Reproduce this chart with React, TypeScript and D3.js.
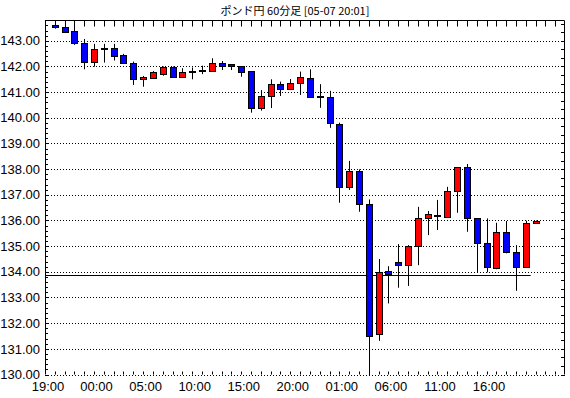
import React from 'react';
import { scaleLinear, range } from 'd3';

// 60-minute candles, index 1..50 (index 0 = 19:00)
const opens = [
  143.62, 143.53, 143.38, 142.9, 142.19, 142.67, 142.71, 142.45, 142.15, 141.5,
  141.56, 141.7, 141.97, 141.6, 141.8, 141.84, 141.84, 142.12, 142.09, 142.01,
  141.82, 140.37, 140.84, 141.31, 141.11, 141.37, 141.54, 140.82, 140.8, 139.75,
  137.31, 137.93, 136.63, 131.57, 134.02, 134.37, 134.25, 135.0, 136.08, 136.18,
  136.14, 137.13, 138.08, 136.08, 135.11, 134.16, 135.54, 134.76, 134.19, 135.89,
];
const highs = [
  143.65, 143.65, 143.66, 143.07, 142.88, 142.88, 142.88, 142.49, 142.19, 141.63,
  141.82, 142.0, 142.0, 141.93, 141.96, 142.03, 142.32, 142.21, 142.09, 142.01,
  141.82, 141.08, 141.5, 141.41, 141.51, 141.8, 141.89, 141.31, 141.05, 139.81,
  138.32, 137.99, 136.82, 134.5, 134.22, 135.08, 135.04, 136.53, 136.37, 136.8,
  137.31, 138.08, 138.2, 136.08, 136.08, 135.91, 135.98, 135.04, 135.99, 136.0,
];
const lows = [
  143.47, 143.32, 142.84, 141.89, 141.99, 142.15, 142.23, 142.12, 141.28, 141.21,
  141.52, 141.64, 141.57, 141.58, 141.5, 141.7, 141.8, 141.86, 141.86, 141.6,
  140.2, 140.28, 140.38, 140.85, 141.08, 140.89, 140.78, 140.39, 139.61, 136.69,
  137.19, 136.34, 129.9, 131.31, 132.77, 133.38, 133.45, 134.26, 135.43, 135.63,
  136.11, 136.3, 135.56, 133.98, 133.98, 134.1, 134.72, 133.26, 134.17, 135.89,
];
const closes = [
  143.52, 143.36, 142.93, 142.19, 142.67, 142.68, 142.42, 142.12, 141.5, 141.58,
  141.77, 141.97, 141.6, 141.8, 141.8, 141.84, 142.12, 142.03, 142.01, 141.8,
  140.39, 140.84, 141.31, 141.11, 141.35, 141.58, 140.82, 140.82, 139.79, 137.31,
  137.93, 136.63, 131.5, 134.0, 133.9, 134.25, 135.0, 136.08, 136.24, 136.18,
  137.13, 138.08, 136.08, 135.11, 134.17, 135.54, 134.76, 134.19, 135.89, 135.98,
];

const timeLabels = ['19:00', '00:00', '05:00', '10:00', '15:00', '20:00', '01:00', '06:00', '11:00', '16:00'];
const priceTicks = range(130, 144, 1);
const refLevel = 133.87;
const refLevelEnd = 49.5;
const title = 'ポンド円 60分足 [05-07 20:01]';

const W = 570;
const H = 398;
const L = 45;
const R = 565;
const T = 20.5;
const B = 374.5;

const x = scaleLinear().domain([0, 53]).range([L, R]);
const y = scaleLinear().domain([130, 143.79]).range([B, T]);

const labelFont = "'Liberation Sans Narrow', 'Liberation Sans', Arial, sans-serif";

export default function App() {
  const candles = opens.map((o, i) => ({
    i: i + 1,
    o,
    h: highs[i],
    l: lows[i],
    c: closes[i],
  }));

  return (
    <svg
      width={W}
      height={H}
      style={{ position: 'absolute', left: 0, top: 0, background: '#fff' }}
    >
      <defs>
        <clipPath id="plot">
          <rect x={L} y={T} width={R - L} height={B - T + 1} />
        </clipPath>
      </defs>

      <text
        x={295}
        y={15}
        textAnchor="middle"
        fontFamily="'Noto Sans CJK JP', sans-serif"
        fontSize={11}
        fill="#000"
      >
        {title}
      </text>

      {/* grid */}
      {priceTicks.map(v => (
        <line
          key={'g' + v}
          x1={L}
          x2={R}
          y1={Math.round(y(v)) + 0.5}
          y2={Math.round(y(v)) + 0.5}
          stroke="#000"
          strokeDasharray="1 2"
        />
      ))}

      {/* frame */}
      <path d={`M${L + 0.5},${B} V${T} H${R - 0.5} V${B}`} fill="none" stroke="#000" />

      {/* left axis ticks */}
      {range(130, 143.8, 0.2).map(v => {
        const major = Math.abs(v - Math.round(v)) < 0.01;
        const yy = Math.round(y(v)) + 0.5;
        return <line key={'lt' + v} x1={L} x2={L + (major ? 4 : 3)} y1={yy} y2={yy} stroke="#000" />;
      })}
      {/* right axis ticks */}
      {range(130, 143.8, 1 / 3).map(v => {
        const yy = Math.round(y(v)) + 0.5;
        return <line key={'rt' + v} x1={R - 4} x2={R} y1={yy} y2={yy} stroke="#000" />;
      })}
      {/* top / bottom ticks */}
      {range(1, 53).map(i => {
        const xx = Math.round(x(i)) + 0.5;
        return (
          <g key={'xt' + i}>
            <line x1={xx} x2={xx} y1={T} y2={T + 6} stroke="#000" />
            <line x1={xx} x2={xx} y1={B} y2={B - 3} stroke="#000" />
          </g>
        );
      })}

      {/* y labels */}
      {priceTicks.map(v => (
        <text
          key={'yl' + v}
          x={40}
          y={y(v)}
          dy="0.36em"
          textAnchor="end"
          fontFamily={labelFont}
          fontSize={13}
          fill="#000"
        >
          {v.toFixed(2)}
        </text>
      ))}

      {/* x labels */}
      {timeLabels.map((t, k) => (
        <text
          key={'xl' + t + k}
          x={Math.max(x(k * 5) + 2.5, 48)}
          y={391}
          textAnchor="middle"
          fontFamily={labelFont}
          fontSize={13}
          fill="#000"
        >
          {t}
        </text>
      ))}

      {/* reference level */}
      <line
        x1={L}
        x2={x(refLevelEnd)}
        y1={Math.round(y(refLevel)) + 0.5}
        y2={Math.round(y(refLevel)) + 0.5}
        stroke="#000"
      />

      {/* candles */}
      <g clipPath="url(#plot)">
        {candles.map(d => {
          const cx = Math.round(x(d.i));
          const up = d.c > d.o;
          const doji = Math.abs(d.c - d.o) < 0.02;
          const top = Math.round(y(Math.max(d.o, d.c)));
          const bot = Math.round(y(Math.min(d.o, d.c)));
          return (
            <g key={'c' + d.i}>
              <line
                x1={cx + 0.5}
                x2={cx + 0.5}
                y1={y(d.h)}
                y2={y(d.l)}
                stroke="#000"
              />
              {doji ? (
                <rect x={cx - 3} y={top - 1} width={7} height={2} fill="#000" />
              ) : (
                <rect
                  x={cx - 2.5}
                  y={top + 0.5}
                  width={6}
                  height={Math.max(bot - top, 1)}
                  fill={up ? '#ff0000' : '#0000ff'}
                  stroke="#000"
                />
              )}
            </g>
          );
        })}
      </g>
    </svg>
  );
}
